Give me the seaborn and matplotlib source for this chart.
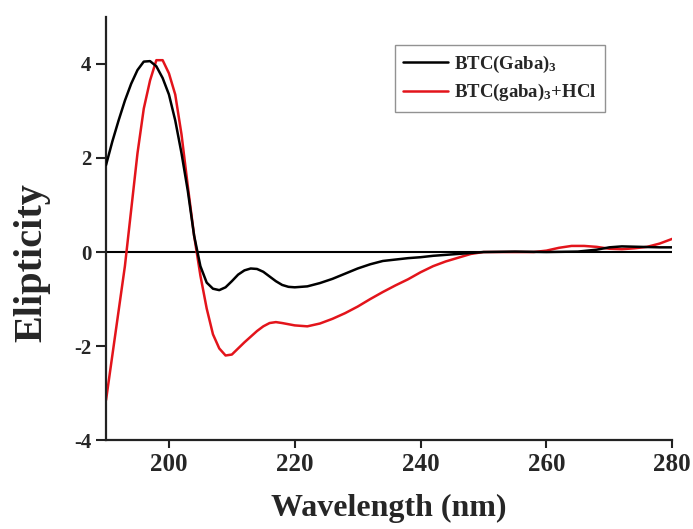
import numpy as np
import pandas as pd
import matplotlib
matplotlib.use("Agg")
import matplotlib.pyplot as plt
import seaborn as sns

# ---- data ----
wl_black = [190, 191, 192, 193, 194, 195, 196, 197, 198, 199, 200, 201, 202, 203, 204,
            205, 206, 207, 208, 209, 210, 211, 212, 213, 214, 215, 216, 217, 218, 219,
            220, 222, 224, 226, 228, 230, 232, 234, 236, 238, 240, 242, 244, 246, 248,
            250, 255, 260, 265, 268, 270, 272, 275, 278, 280]
ell_black = [1.85, 2.35, 2.8, 3.22, 3.58, 3.87, 4.05, 4.06, 3.95, 3.7, 3.35, 2.8, 2.1, 1.3, 0.35,
             -0.3, -0.65, -0.78, -0.81, -0.75, -0.62, -0.48, -0.39, -0.35, -0.36, -0.42, -0.52, -0.62, -0.70, -0.74,
             -0.75, -0.73, -0.66, -0.57, -0.46, -0.35, -0.26, -0.19, -0.16, -0.13, -0.11, -0.08, -0.06, -0.04, -0.02,
             0.0, 0.01, 0.0, 0.01, 0.05, 0.10, 0.12, 0.11, 0.10, 0.10]

wl_red = [190, 191, 192, 193, 194, 195, 196, 197, 198, 199, 200, 201, 202, 203, 204,
          205, 206, 207, 208, 209, 210, 211, 212, 213, 214, 215, 216, 217, 218, 220,
          222, 224, 226, 228, 230, 232, 234, 236, 238, 240, 242, 244, 246, 248, 250,
          255, 258, 260, 262, 264, 266, 268, 270, 272, 274, 276, 278, 280]
ell_red = [-3.15, -2.2, -1.25, -0.3, 0.9, 2.1, 3.05, 3.65, 4.08, 4.08, 3.8, 3.35, 2.5, 1.4, 0.35,
           -0.5, -1.2, -1.75, -2.05, -2.2, -2.18, -2.05, -1.92, -1.8, -1.68, -1.58, -1.51, -1.49, -1.51, -1.56,
           -1.58, -1.52, -1.42, -1.3, -1.16, -1.0, -0.85, -0.71, -0.58, -0.43, -0.3, -0.2, -0.12, -0.04, 0.0,
           0.0, 0.0, 0.03, 0.09, 0.13, 0.13, 0.11, 0.07, 0.06, 0.08, 0.11, 0.18, 0.28]

label_black = r"BTC(Gaba)$_3$"
label_red = r"BTC(gaba)$_3$+HCl"
x_ticks = [200, 220, 240, 260, 280]
y_ticks = [-4, -2, 0, 2, 4]

# ---- style ----
sns.set_style("ticks")
plt.rcParams["font.family"] = ["Liberation Serif", "DejaVu Serif"]
plt.rcParams["font.weight"] = "bold"
plt.rcParams["axes.unicode_minus"] = False
plt.rcParams["mathtext.fontset"] = "custom"
plt.rcParams["mathtext.rm"] = "Liberation Serif:bold"
plt.rcParams["mathtext.bf"] = "Liberation Serif:bold"
plt.rcParams["mathtext.default"] = "rm"

fig = plt.figure(figsize=(6.93, 5.29), dpi=100)
ax = fig.add_axes([0.153, 0.168, 0.817, 0.80])

df_b = pd.DataFrame({"wl": wl_black, "ell": ell_black})
df_r = pd.DataFrame({"wl": wl_red, "ell": ell_red})

ax.axhline(0, color="black", lw=1.5, zorder=1)
sns.lineplot(data=df_b, x="wl", y="ell", ax=ax, color="black", lw=1.8,
             label=label_black, estimator=None, sort=False, zorder=3)
sns.lineplot(data=df_r, x="wl", y="ell", ax=ax, color="#e3141b", lw=1.8,
             label=label_red, estimator=None, sort=False, zorder=2)

ax.set_xlim(190, 280)
ax.set_ylim(-4, 5)
ax.set_xticks(x_ticks)
ax.set_yticks(y_ticks)
ax.tick_params(axis="x", labelsize=18, width=1.5, length=6, direction="out", color="#222222")
ax.tick_params(axis="y", labelsize=15, width=1.5, length=7, direction="out", color="#222222")
for lab in ax.get_xticklabels() + ax.get_yticklabels():
    lab.set_fontweight("bold")

for s in ["top", "right"]:
    ax.spines[s].set_visible(False)
for s in ["left", "bottom"]:
    ax.spines[s].set_linewidth(1.6)
    ax.spines[s].set_color("#222222")

ax.set_xlabel("Wavelength (nm)", fontsize=23, fontweight="bold", labelpad=13)
ax.set_ylabel("Elipticity", fontsize=29, fontweight="bold")
ax.yaxis.set_label_coords(-0.098, 0.42)

leg = ax.legend(loc="upper left", bbox_to_anchor=(395 / 693, 1 - 45 / 529),
                bbox_transform=fig.transFigure, borderaxespad=0, frameon=True,
                fancybox=False, fontsize=13.5, handlelength=2.4, borderpad=0.45,
                labelspacing=0.4, handletextpad=0.3)
leg.get_frame().set_edgecolor("#777777")
leg.get_frame().set_linewidth(1.0)
for t in leg.get_texts():
    t.set_fontweight("bold")

fig.savefig("out.png", dpi=100)
